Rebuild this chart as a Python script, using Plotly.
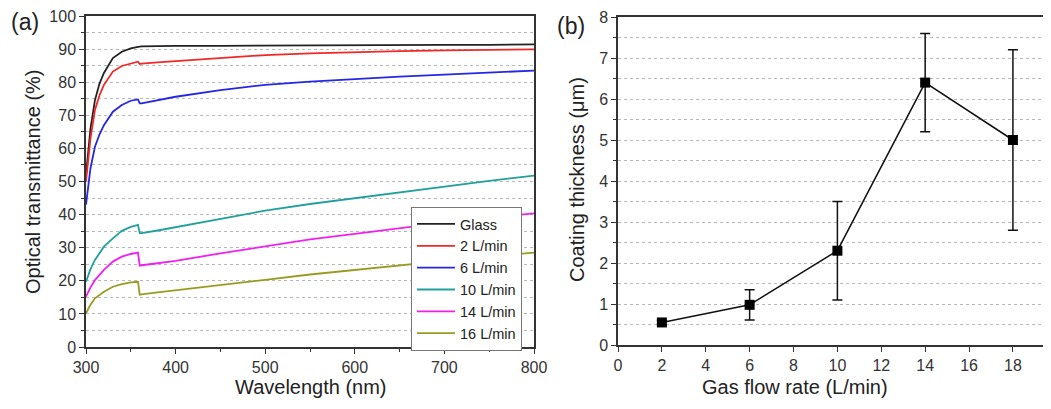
import plotly.graph_objects as go

# ---------------- Panel (a) data ----------------
wavelength = [300, 305, 310, 315, 320, 330, 340, 350, 358, 360, 362, 380, 400, 450, 500, 550, 600, 650, 700, 750, 800]
glass  = [52.0, 66.0, 74.6, 79.5, 82.8, 87.3, 89.2, 90.2, 90.7, 90.8, 90.8, 90.9, 91.0, 91.0, 91.1, 91.1, 91.2, 91.2, 91.3, 91.3, 91.4]
lpm2   = [50.0, 63.0, 71.6, 76.0, 79.2, 83.2, 84.9, 85.7, 86.2, 85.5, 85.6, 86.0, 86.4, 87.4, 88.2, 88.7, 89.1, 89.4, 89.6, 89.8, 89.9]
lpm6   = [43.0, 54.0, 60.5, 64.2, 67.0, 71.1, 73.1, 74.4, 74.8, 73.6, 73.6, 74.6, 75.6, 77.6, 79.2, 80.2, 81.0, 81.7, 82.3, 82.9, 83.5]
lpm10  = [19.7, 23.5, 26.3, 28.5, 30.3, 32.8, 35.1, 36.3, 36.9, 34.4, 34.4, 35.2, 36.2, 38.7, 41.2, 43.2, 45.0, 46.8, 48.6, 50.2, 51.8]
lpm14  = [15.2, 18.0, 20.2, 21.9, 23.3, 25.8, 27.3, 28.1, 28.5, 24.6, 24.7, 25.3, 26.0, 28.3, 30.5, 32.5, 34.2, 36.0, 37.6, 39.0, 40.4]
lpm16  = [10.2, 12.8, 14.7, 15.8, 16.7, 18.2, 19.0, 19.5, 19.7, 15.8, 15.9, 16.5, 17.1, 18.7, 20.3, 21.9, 23.3, 24.8, 26.2, 27.4, 28.5]

series_names  = ["Glass", "2 L/min", "6 L/min", "10 L/min", "14 L/min", "16 L/min"]
series_values = [glass, lpm2, lpm6, lpm10, lpm14, lpm16]
series_colors = ["#222222", "#f02828", "#2626e6", "#22a09a", "#f020f0", "#9a9a22"]

# ---------------- Panel (b) data ----------------
flow_rate  = [2, 6, 10, 14, 18]
thickness  = [0.55, 0.98, 2.3, 6.4, 5.0]
err_plus   = [0.05, 0.37, 1.2, 1.2, 2.2]
err_minus  = [0.05, 0.37, 1.2, 1.2, 2.2]

FONT = "Arial, Liberation Sans, Helvetica, sans-serif"
OFF = 8                       # page body margin
W, H = 1051 - OFF, 409 - OFF  # figure size so it fits the window

fig = go.Figure()

for name, vals, col in zip(series_names, series_values, series_colors):
    fig.add_trace(go.Scatter(x=wavelength, y=vals, mode="lines", name=name,
                             line=dict(color=col, width=1.8),
                             xaxis="x", yaxis="y", showlegend=True))

fig.add_trace(go.Scatter(x=flow_rate, y=thickness, mode="lines+markers",
                         line=dict(color="#111111", width=1.5),
                         marker=dict(symbol="square", size=10, color="#000000"),
                         error_y=dict(type="data", symmetric=False, array=err_plus,
                                      arrayminus=err_minus, color="#111111",
                                      thickness=1.5, width=5),
                         xaxis="x2", yaxis="y2", showlegend=False))

grid = dict(showgrid=True, gridcolor="#b8b8b8", gridwidth=1, griddash="dot")
common = dict(showline=True, linecolor="#333333", linewidth=1.5, mirror=True,
              ticks="outside", ticklen=5, tickwidth=1.2, tickcolor="#333333",
              tickfont=dict(family=FONT, size=16, color="#333333"),
              ticklabeloverflow="allow",
              zeroline=False, automargin=False)

def px2x(p):
    return (p - OFF) / W

def py2y(p):
    return 1 - (p - OFF) / H

x2_right_px = 1051
fig.update_layout(
    width=W, height=H,
    margin=dict(l=0, r=0, t=0, b=0),
    paper_bgcolor="white", plot_bgcolor="white",
    font=dict(family=FONT, color="#222222"),
    xaxis=dict(domain=[px2x(86), px2x(534)], range=[300, 800], dtick=100,
               showgrid=False, anchor="y",
               minor=dict(dtick=50, ticks="outside", ticklen=3, tickcolor="#333333", showgrid=False),
               **common),
    yaxis=dict(domain=[py2y(347), py2y(16)], range=[0, 100], dtick=10, anchor="x",
               minor=dict(dtick=5, ticks="outside", ticklen=3, tickcolor="#333333", **grid),
               **grid, **common),
    xaxis2=dict(domain=[px2x(618), 1.0], range=[0, (x2_right_px - 618) / 21.94], dtick=2,
                showgrid=False, anchor="y2", **common),
    yaxis2=dict(domain=[py2y(345), py2y(17)], range=[0, 8], dtick=1, anchor="x2",
                minor=dict(dtick=0.5, ticks="outside", ticklen=3, tickcolor="#333333", **grid),
                **grid, **common),
    legend=dict(x=px2x(411), y=py2y(207), xanchor="left", yanchor="top",
                bgcolor="white", bordercolor="#777777", borderwidth=1,
                font=dict(family=FONT, size=14.5, color="#222222"),
                tracegroupgap=0, itemwidth=38),
    annotations=[
        dict(text="(a)", x=px2x(9), y=py2y(22), xref="paper", yref="paper",
             xanchor="left", yanchor="middle", showarrow=False,
             font=dict(family=FONT, size=23, color="#222222")),
        dict(text="(b)", x=px2x(555), y=py2y(26), xref="paper", yref="paper",
             xanchor="left", yanchor="middle", showarrow=False,
             font=dict(family=FONT, size=23, color="#222222")),
        dict(text="Wavelength (nm)", x=px2x(311), y=py2y(387), xref="paper", yref="paper",
             xanchor="center", yanchor="middle", showarrow=False,
             font=dict(family=FONT, size=20, color="#222222")),
        dict(text="Optical transmittance (%)", x=px2x(33), y=py2y(182), xref="paper", yref="paper",
             xanchor="center", yanchor="middle", showarrow=False, textangle=-90,
             font=dict(family=FONT, size=20, color="#222222")),
        dict(text="Gas flow rate (L/min)", x=px2x(795), y=py2y(387), xref="paper", yref="paper",
             xanchor="center", yanchor="middle", showarrow=False,
             font=dict(family=FONT, size=20, color="#222222")),
        dict(text="Coating thickness (μm)", x=px2x(577), y=py2y(180), xref="paper", yref="paper",
             xanchor="center", yanchor="middle", showarrow=False, textangle=-90,
             font=dict(family=FONT, size=20, color="#222222")),
    ],
)

fig.write_html("out.html")
